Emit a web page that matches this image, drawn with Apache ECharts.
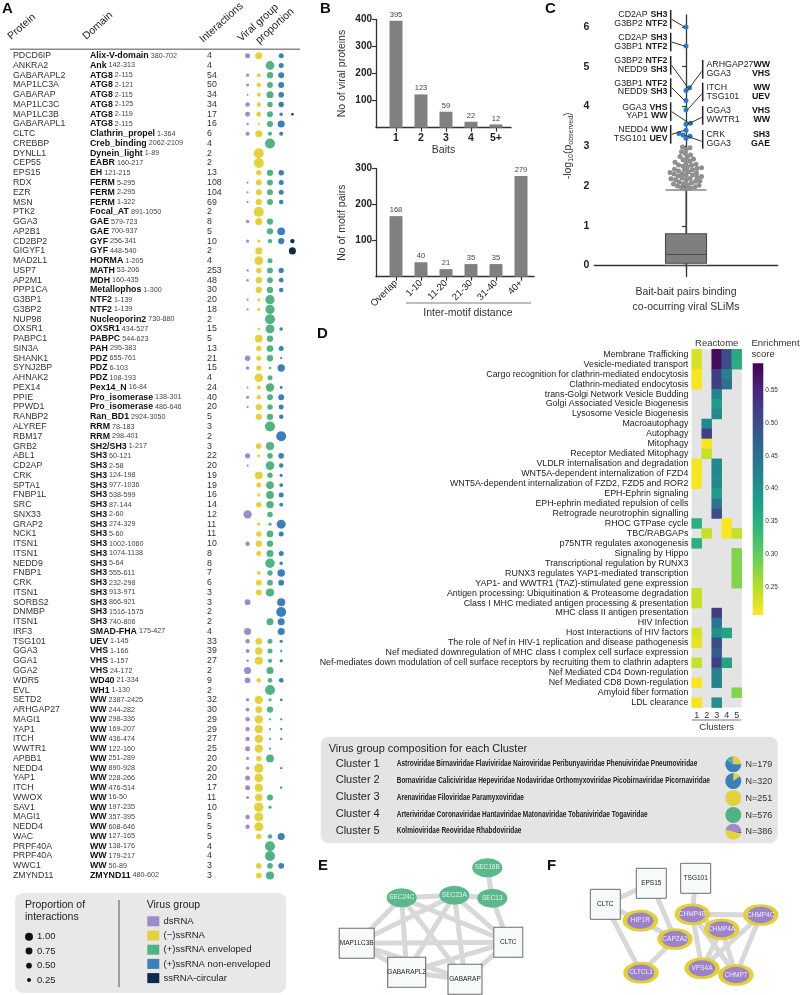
<!DOCTYPE html>
<html><head><meta charset="utf-8"><title>chart</title>
<script src="https://cdn.jsdelivr.net/npm/echarts@6.0.0/dist/echarts.min.js"></script>
<style>html,body{margin:0;padding:0;background:#fff;}#chart{width:800px;height:995px;}</style>
</head><body><div id="chart"></div>
<script>
const FF = '"Liberation Sans", Arial, Helvetica, sans-serif';

/* ---------- Panel A data ---------- */
const proteins = ['PDCD6IP','ANKRA2','GABARAPL2','MAP1LC3A','GABARAP','MAP1LC3C','MAP1LC3B','GABARAPL1','CLTC','CREBBP',
 'DYNLL1','CEP55','EPS15','RDX','EZR','MSN','PTK2','GGA3','AP2B1','CD2BP2',
 'GIGYF1','MAD2L1','USP7','AP2M1','PPP1CA','G3BP1','G3BP2','NUP98','OXSR1','PABPC1',
 'SIN3A','SHANK1','SYNJ2BP','AHNAK2','PEX14','PPIE','PPWD1','RANBP2','ALYREF','RBM17',
 'GRB2','ABL1','CD2AP','CRK','SPTA1','FNBP1L','SRC','SNX33','GRAP2','NCK1',
 'ITSN1','ITSN1','NEDD9','FNBP1','CRK','ITSN1','SORBS2','DNMBP','ITSN1','IRF3',
 'TSG101','GGA3','GGA1','GGA2','WDR5','EVL','SETD2','ARHGAP27','MAGI1','YAP1',
 'ITCH','WWTR1','APBB1','NEDD4','YAP1','ITCH','WWOX','SAV1','MAGI1','NEDD4',
 'WAC','PRPF40A','PRPF40A','WWC1','ZMYND11'];
const domains = ['Alix-V-domain','Ank','ATG8','ATG8','ATG8','ATG8','ATG8','ATG8','Clathrin_propel','Creb_binding',
 'Dynein_light','EABR','EH','FERM','FERM','FERM','Focal_AT','GAE','GAE','GYF',
 'GYF','HORMA','MATH','MDH','Metallophos','NTF2','NTF2','Nucleoporin2','OXSR1','PABPC',
 'PAH','PDZ','PDZ','PDZ','Pex14_N','Pro_isomerase','Pro_isomerase','Ran_BD1','RRM','RRM',
 'SH2/SH3','SH3','SH3','SH3','SH3','SH3','SH3','SH3','SH3','SH3',
 'SH3','SH3','SH3','SH3','SH3','SH3','SH3','SH3','SH3','SMAD-FHA',
 'UEV','VHS','VHS','VHS','WD40','WH1','WW','WW','WW','WW',
 'WW','WW','WW','WW','WW','WW','WW','WW','WW','WW',
 'WW','WW','WW','WW','ZMYND11'];
const domainRanges = ['380-702','142-313','2-115','2-121','2-115','2-125','2-119','2-115','1-364','2062-2109',
 '1-89','160-217','121-215','5-295','2-295','1-322','891-1050','579-723','700-937','256-341',
 '448-540','1-205','53-206','160-435','1-300','1-139','1-139','730-880','434-527','544-623',
 '295-383','655-761','6-103','108-193','16-84','138-301','486-646','2924-3050','78-183','298-401',
 '1-217','60-121','2-58','124-198','977-1036','538-599','87-144','2-60','274-329','5-60',
 '1002-1060','1074-1138','5-64','555-611','232-298','913-971','866-921','1516-1575','740-806','175-427',
 '1-145','1-166','1-157','24-172','21-334','1-130','2387-2425','244-282','298-336','169-207',
 '436-474','122-160','251-289','890-928','228-266','476-514','16-50','197-235','357-395','608-646',
 '127-165','138-176','179-217','50-89','480-602'];
const interactions = [4,4,54,50,34,34,17,16,6,4,
 2,2,13,108,104,69,2,8,5,10,
 2,4,253,48,30,20,18,2,15,5,
 13,21,15,4,24,40,20,5,3,2,
 3,22,20,19,19,16,14,12,11,11,
 10,8,8,7,6,3,3,2,2,4,
 33,39,27,2,9,2,32,30,29,29,
 27,25,20,20,20,17,11,10,5,5,
 5,4,4,3,3];
const groupNames = ['dsRNA','(−)ssRNA','(+)ssRNA enveloped','(+)ssRNA non-enveloped','ssRNA-circular'];
const propDsRNA = [.25,0,.1,.1,.03,.2,.24,.06,.17,0,
 0,0,0,.05,.05,.05,0,.12,0,.1,
 0,0,.06,.06,0,.05,.05,0,0,0,
 0,.3,.13,0,.04,.1,.05,0,0,0,
 0,.27,.05,0,0,0,0,.7,0,0,
 .2,0,0,0,0,0,.33,0,0,.5,
 .2,.15,.07,.5,.33,0,.12,.15,.2,.2,
 .2,.25,.1,.1,.25,.25,.09,0,.2,.2,
 0,0,0,0,0];
const propNegSsRNA = [.5,0,.15,.2,.15,.2,.24,.06,.5,0,
 1,1,.3,.35,.35,.4,1,.5,0,.1,
 .5,.75,.3,.4,.4,.1,.1,0,.07,.6,
 .3,.25,.27,.75,.17,.2,.4,.4,0,0,
 .33,.1,0,.6,.25,.12,.3,0,.1,.3,
 .4,.25,0,.14,.33,.33,0,0,0,0,
 .45,.55,.65,0,.22,0,.7,.45,.7,.7,
 .7,.7,.3,.85,.75,.7,.55,.9,.8,.8,
 .3,0,0,.33,.33];
const propPosEnveloped = [0,.75,.4,.35,.5,.3,.35,.38,.17,1,
 0,0,.4,.35,.35,.35,0,.38,.4,.2,
 0,.25,.35,.32,.4,.85,.85,1,.8,.4,
 .45,.4,.07,.25,.7,.35,.3,.4,1,0,
 .67,.32,.75,.3,.6,.6,.55,.3,.1,.45,
 .4,.5,.88,.29,.33,.67,0,0,.5,0,
 .25,.25,.18,.5,.22,1,.1,.4,.05,.05,
 .05,.05,.6,0,0,0,.36,.1,0,0,
 .2,1,1,.33,.67];
const propPosNonEnveloped = [.25,.25,.35,.35,.32,.3,.12,.5,.17,0,
 0,0,.3,.25,.25,.2,0,0,.6,.4,
 0,0,.27,.22,.2,0,0,0,.13,0,
 .25,.05,.53,0,.08,.35,.25,.2,0,1,
 0,.32,.2,.1,.15,.25,.15,0,.8,.25,
 0,.25,.12,.57,.33,0,.67,1,.5,.5,
 .1,.05,.1,0,.22,0,.08,0,.05,.05,
 .05,0,0,.05,0,.05,0,0,0,0,
 .5,0,0,.33,0];
const propCircular = [0,0,0,0,0,0,.06,0,0,0,
 0,0,0,0,0,0,0,0,0,.2,
 .5,0,0,0,0,0,0,0,0,0,
 0,0,0,0,0,0,0,0,0,0,
 0,0,0,0,0,0,0,0,0,0,
 0,0,0,0,0,0,0,0,0,0,
 0,0,0,0,0,0,0,0,0,0,
 0,0,0,0,0,0,0,0,0,0,
 0,0,0,0,0];
const legendProportions = [1.00, 0.75, 0.50, 0.25];

/* ---------- Panel B data ---------- */
const baitCategories = ['1','2','3','4','5+'];
const viralProteinCounts = [395,123,59,22,12];
const distanceCategories = ['Overlap','1-10','11-20','21-30','31-40','40+'];
const motifPairCounts = [168,40,21,35,35,279];

/* ---------- Panel C data ---------- */
const boxStats = [0, 0.06, 0.28, 0.80, 1.90];
const outlierGray = [2.98,2.96,2.92,2.86,2.81,2.78,2.74,2.71,2.68,2.66,2.62,2.60,2.58,2.55,2.53,2.52,2.50,2.48,2.46,2.44,
 2.42,2.41,2.40,2.38,2.36,2.34,2.33,2.31,2.30,2.28,2.27,2.25,2.24,2.22,2.20,2.19,2.18,2.16,2.15,2.13,
 2.12,2.10,2.08,2.06,2.05,2.03,2.02,2.00,1.98,1.96,1.95,1.93];
const outlierBlue = [6.00,5.52,4.47,4.40,4.15,3.92,3.58,3.55,3.40,3.32,3.28,3.25,3.20];
const pairAnnotations = [
 {side:'L', a:['CD2AP','SH3'], b:['G3BP2','NTF2'], target:0},
 {side:'L', a:['CD2AP','SH3'], b:['G3BP1','NTF2'], target:1},
 {side:'L', a:['G3BP2','NTF2'], b:['NEDD9','SH3'], target:2},
 {side:'L', a:['G3BP1','NTF2'], b:['NEDD9','SH3'], target:4},
 {side:'L', a:['GGA3','VHS'], b:['YAP1','WW'], target:6},
 {side:'L', a:['NEDD4','WW'], b:['TSG101','UEV'], target:8},
 {side:'R', a:['ARHGAP27','WW'], b:['GGA3','VHS'], target:3},
 {side:'R', a:['ITCH','WW'], b:['TSG101','UEV'], target:5},
 {side:'R', a:['GGA3','VHS'], b:['WWTR1','WW'], target:7},
 {side:'R', a:['CRK','SH3'], b:['GGA3','GAE'], target:10}
];

/* ---------- Panel D data ---------- */
const pathways = ['Membrane Trafficking','Vesicle-mediated transport','Cargo recognition for clathrin-mediated endocytosis','Clathrin-mediated endocytosis',
 'trans-Golgi Network Vesicle Budding','Golgi Associated Vesicle Biogenesis','Lysosome Vesicle Biogenesis','Macroautophagy','Autophagy','Mitophagy',
 'Receptor Mediated Mitophagy','VLDLR internalisation and degradation','WNT5A-dependent internalization of FZD4','WNT5A-dependent internalization of FZD2, FZD5 and ROR2',
 'EPH-Ephrin signaling','EPH-ephrin mediated repulsion of cells','Retrograde neurotrophin signalling','RHOC GTPase cycle','TBC/RABGAPs','p75NTR regulates axonogenesis',
 'Signaling by Hippo','Transcriptional regulation by RUNX3','RUNX3 regulates YAP1-mediated transcription','YAP1- and WWTR1 (TAZ)-stimulated gene expression',
 'Antigen processing: Ubiquitination & Proteasome degradation','Class I MHC mediated antigen processing & presentation','MHC class II antigen presentation','HIV Infection',
 'Host Interactions of HIV factors','The role of Nef in HIV-1 replication and disease pathogenesis','Nef mediated downregulation of MHC class I complex cell surface expression',
 'Nef-mediates down modulation of cell surface receptors by recruiting them to clathrin adapters','Nef Mediated CD4 Down-regulation','Nef Mediated CD8 Down-regulation',
 'Amyloid fiber formation','LDL clearance'];
const clusterLabels = ['1','2','3','4','5'];
const scoreCluster1 = [.23,.23,.21,.21,null,null,null,null,null,null,null,.215,.21,.21,null,null,null,.35,null,.35,null,null,null,null,.24,.24,null,null,.23,.22,null,.24,null,.21,null,.21];
const scoreCluster2 = [null,null,null,null,null,null,null,.41,.52,.21,.24,null,null,null,null,null,null,null,.24,null,null,null,null,null,null,null,null,null,null,null,null,null,null,null,null,null];
const scoreCluster3 = [.58,.58,.52,.52,.42,.38,.41,null,null,null,null,.41,.41,.41,.38,.44,.50,null,null,null,null,null,null,null,null,null,.52,.44,.40,.50,.48,.52,.42,.42,null,.40];
const scoreCluster4 = [.50,.50,.42,.45,null,null,null,null,null,null,null,null,null,null,null,null,null,.21,.21,null,null,null,null,null,null,null,null,null,.37,null,null,.37,null,null,null,null];
const scoreCluster5 = [.36,.35,null,null,null,null,null,null,null,null,null,null,null,null,null,null,null,null,.24,null,.28,.28,.28,.28,null,null,null,null,null,null,null,null,null,null,.28,null];
const scoreRange = [0.207, 0.591];
const colorbarTicks = [0.25,0.30,0.35,0.40,0.45,0.50,0.55];
const clusterNames = ['Cluster 1','Cluster 2','Cluster 3','Cluster 4','Cluster 5'];
const clusterFamilies = [
 'Astroviridae Birnaviridae Flaviviridae Nairoviridae Peribunyaviridae Phenuiviridae Pneumoviridae',
 'Bornaviridae Caliciviridae Hepeviridae Nodaviridae Orthomyxoviridae Picobirnaviridae Picornaviridae',
 'Arenaviridae Filoviridae Paramyxoviridae',
 'Arteriviridae Coronaviridae Hantaviridae Matonaviridae Tobaniviridae Togaviridae',
 'Kolmioviridae Reoviridae Rhabdoviridae'];
const clusterN = [179,320,251,576,386];
const compNegSsRNA = [.25,.15,1,0,.515];
const compPosNonEnv = [.60,.85,0,0,0];
const compPosEnv = [.12,0,0,1,0];
const compDsRNA = [.03,0,0,0,.47];
const compCircular = [0,0,0,0,.015];

/* ---------- Panels E, F networks ---------- */
const netENodes = ['SEC16B','SEC24C','SEC23A','SEC13','MAP1LC3B','CLTC','GABARAPL2','GABARAP'];
const netEViral = [true,true,true,true,false,false,false,false];
const netEEdges = [['SEC16B','SEC13'],['SEC24C','SEC23A'],['SEC23A','SEC13'],['SEC13','CLTC'],['SEC24C','MAP1LC3B'],['SEC24C','GABARAPL2'],
 ['SEC24C','GABARAP'],['SEC24C','CLTC'],['SEC23A','MAP1LC3B'],['SEC23A','GABARAPL2'],['SEC23A','GABARAP'],['SEC23A','CLTC'],
 ['MAP1LC3B','CLTC'],['MAP1LC3B','GABARAPL2'],['MAP1LC3B','GABARAP'],['GABARAPL2','CLTC'],['GABARAPL2','GABARAP'],['GABARAP','CLTC']];
const netFNodes = ['CLTC','EPS15','TSG101','HIP1R','CHMP4B','CHMP4C','CHMP4A','CAPZA2','CLTCL1','VPS4A','CHMP7'];
const netFViral = [false,false,false,true,true,true,true,true,true,true,true];
const netFEdges = [['CLTC','EPS15'],['CLTC','HIP1R'],['CLTC','CLTCL1'],['EPS15','CAPZA2'],['TSG101','CHMP4B'],['CHMP4B','CHMP4C'],
 ['CHMP4B','CHMP4A'],['CHMP4B','VPS4A'],['CHMP4B','CHMP7'],['CHMP4A','VPS4A'],['CHMP4A','CHMP7'],['CHMP4C','VPS4A'],
 ['CHMP4C','CHMP7'],['VPS4A','CHMP7'],['CAPZA2','CLTCL1'],['HIP1R','CAPZA2']];

/* ---------- layout / style (not data) ---------- */
const groupColors = ['#a08ac8','#e4d13f','#52b283','#3d80b9','#0f2b4a'];
const viridis = ['#440154','#482878','#3e4989','#31688e','#26828e','#1f9e89','#35b779','#6ece58','#b5de2b','#fde725'];
const netELayout = [[487.3,867.7],[401.7,897.7],[454.3,895.3],[492.3,898.3],[356.7,943.3],[508.3,942.3],[406.7,972.3],[465,979.3]];
const netEHostSize = {MAP1LC3B:[35,30], CLTC:[29,30], GABARAPL2:[38,30], GABARAP:[34,30]};
const netFLayout = [[605.3,904.3],[651.3,883.3],[695.7,878.3],[640.3,920.7],[692.3,914.3],[760.7,915],[721.7,929.3],[675,939],[641,972.7],[702,968.3],[736,975]];
const ELLIPSE = 'path://M0,50 A50,50 0 1,1 100,50 A50,50 0 1,1 0,50 Z';

const chart = echarts.init(document.getElementById('chart'), null, {renderer:'canvas', width:800, height:995});

const rowIds = proteins.map((_, i) => 'r' + i);
const dotSize = p => Math.max(2, 10 * Math.sqrt(p));
const propsByGroup = [propDsRNA, propNegSsRNA, propPosEnveloped, propPosNonEnveloped, propCircular];

function textAxis(margin, formatter, extra) {
  return {type:'category', gridIndex:0, data:rowIds, inverse:true, position:'left',
    axisLine:{show:false}, axisTick:{show:false}, splitLine:{show:false},
    axisLabel:Object.assign({interval:0, align:'left', margin, formatter, fontFamily:FF, fontSize:8.8, color:'#333'}, extra||{})};
}
const boldLab = {fontFamily:FF, fontWeight:'bold', fontSize:10, color:'#222'};
const axLine = {show:true, lineStyle:{color:'#333', width:1.3}};
const axTick = (vals) => ({show:true, customValues:vals, length:4, lineStyle:{color:'#333', width:1.2}});

/* beeswarm layout for panel C points (deterministic) */
const pxPerY = 261.7 / 6.58, pxPerX = 183.4 / 2;
function beeswarm(vals, d) {
  const order = vals.map((v, i) => i).sort((a, b) => vals[a] - vals[b]);
  const placed = []; const xs = new Array(vals.length).fill(0);
  for (const i of order) {
    const y = vals[i] * pxPerY;
    for (let k = 0; k < 400; k++) {
      const off = (k % 2 ? 1 : -1) * Math.ceil(k / 2) * 0.5;
      if (placed.every(p => (p[0] - off) ** 2 + (p[1] - y) ** 2 >= d * d)) { placed.push([off, y]); xs[i] = off / pxPerX; break; }
    }
  }
  return xs;
}
const allOut = outlierGray.concat(outlierBlue);
const swarmX = beeswarm(allOut, 4.2);
const grayX = swarmX.slice(0, outlierGray.length);
const blueX = swarmX.slice(outlierGray.length);

const series = [];
propsByGroup.forEach((arr, g) => {
  series.push({type:'scatter', xAxisIndex:0, yAxisIndex:0, silent:true, symbol:'circle',
    symbolSize: d => dotSize(d[2]), itemStyle:{color:groupColors[g], opacity:1},
    data: arr.map((p, i) => p > 0 ? [g, i, p] : null).filter(Boolean)});
});
const barLabel = {show:true, position:'top', distance:2, fontSize:7.5, color:'#444', fontFamily:FF};
series.push({type:'bar', xAxisIndex:1, yAxisIndex:4, barWidth:13, silent:true, itemStyle:{color:'#808080'}, label:barLabel,
  data: viralProteinCounts.map((v, i) => [i + 1, v])});
series.push({type:'bar', xAxisIndex:2, yAxisIndex:5, barWidth:13, silent:true, itemStyle:{color:'#808080'}, label:barLabel,
  data: motifPairCounts.map((v, i) => [i + 1, v])});
series.push({type:'boxplot', xAxisIndex:3, yAxisIndex:6, silent:true, boxWidth:[41,41],
  itemStyle:{color:'#7f7f7f', borderColor:'#4a4a4a', borderWidth:1.1}, data:[boxStats]});
series.push({type:'scatter', xAxisIndex:4, yAxisIndex:6, silent:true, symbolSize:5, itemStyle:{color:'#8e8e8e', opacity:1},
  data: outlierGray.map((v, i) => [grayX[i], v])});
const blueSeriesIndex = series.length;
series.push({type:'scatter', xAxisIndex:4, yAxisIndex:6, silent:true, symbolSize:5, itemStyle:{color:'#2a7cc8', opacity:1},
  data: outlierBlue.map((v, i) => [blueX[i], v])});
const heatData = [];
[scoreCluster1, scoreCluster2, scoreCluster3, scoreCluster4, scoreCluster5].forEach((arr, c) =>
  arr.forEach((v, r) => { if (v != null) heatData.push([c, r, v]); }));
const heatSeriesIndex = series.length;
series.push({type:'heatmap', xAxisIndex:5, yAxisIndex:7, silent:true, data:heatData, itemStyle:{borderWidth:0}});

/* pies */
const pieStart = [90, 90, 90, 90, -10];
const pieY = [764.3, 781, 798, 815, 831.7];
for (let c = 0; c < 5; c++) {
  const parts = [[compNegSsRNA[c],1],[compPosNonEnv[c],3],[compPosEnv[c],2],[compDsRNA[c],0],[compCircular[c],4]];
  series.push({type:'pie', silent:true, z:80, center:[733.3, pieY[c]], radius:[0, 8], startAngle:pieStart[c], clockwise:true,
    label:{show:false}, labelLine:{show:false}, itemStyle:{borderWidth:0}, padAngle:0, avoidLabelOverlap:false,
    data: parts.filter(p => p[0] > 0).map(p => ({value:p[0], name:groupNames[p[1]], itemStyle:{color:groupColors[p[1]]}}))});
}

function netSeries(nodes, viral, layout, edges, fViral) {
  const xs = layout.map(p => p[0]), ys = layout.map(p => p[1]);
  const minX = Math.min(...xs), maxX = Math.max(...xs), minY = Math.min(...ys), maxY = Math.max(...ys);
  return {type:'graph', layout:'none', roam:false, silent:true, left:minX, top:minY, width:maxX - minX, height:maxY - minY,
    lineStyle:{color:'#d8d8d8', width:5, opacity:1, curveness:0},
    data: nodes.map((n, i) => Object.assign({name:n, x:layout[i][0], y:layout[i][1]}, fViral(n, viral[i]))),
    links: edges.map(e => ({source:e[0], target:e[1]}))};
}
series.push(netSeries(netENodes, netEViral, netELayout, netEEdges, (n, v) => v ?
  {symbol:ELLIPSE, symbolSize:[30,19], itemStyle:{color:'#5bb88b', borderWidth:0}, label:{show:true, position:'inside', fontSize:6.5, color:'#e3f4eb', fontFamily:FF}} :
  {symbol:'rect', symbolSize:netEHostSize[n], itemStyle:{color:'#f6fafb', borderColor:'#6d6d6d', borderWidth:1}, label:{show:true, position:'inside', fontSize:6.5, color:'#222', fontFamily:FF}}));
series.push(netSeries(netFNodes, netFViral, netFLayout, netFEdges, (n, v) => v ?
  {symbol:ELLIPSE, symbolSize:[31,19], itemStyle:{color:'#9c83c8', borderColor:'#e2cf3a', borderWidth:3.5}, label:{show:true, position:'inside', fontSize:6.5, color:'#efe9f8', fontFamily:FF}} :
  {symbol:'rect', symbolSize:[30,30], itemStyle:{color:'#f6fafb', borderColor:'#6d6d6d', borderWidth:1}, label:{show:true, position:'inside', fontSize:6.5, color:'#222', fontFamily:FF}}));

const option = {
  animation:false,
  textStyle:{fontFamily:FF},
  grid:[
    {left:242, top:50.8, width:56, height:829.6, outerBoundsMode:'none'},
    {left:376, top:19.5, width:135, height:108.2, outerBoundsMode:'none'},
    {left:376, top:168.5, width:158, height:108.2, outerBoundsMode:'none'},
    {left:594.3, top:15, width:183.4, height:261.7, outerBoundsMode:'none'},
    {left:691.7, top:349.3, width:50, height:358.3, show:true, backgroundColor:'#e4e4e4', borderWidth:0, outerBoundsMode:'none'},
    {left:752.7, top:363.3, width:10.6, height:251.7, outerBoundsMode:'none'}
  ],
  xAxis:[
    {type:'category', gridIndex:0, data:groupNames, show:false},
    {type:'value', gridIndex:1, min:0.2, max:5.6, splitLine:{show:false}, axisLine:axLine, axisTick:axTick([1,2,3,4,5]),
      axisLabel:Object.assign({customValues:[1,2,3,4,5], formatter:v => baitCategories[Math.round(v) - 1], margin:5}, boldLab, {fontSize:10.5}),
      name:'Baits', nameLocation:'middle', nameGap:17, nameMoveOverlap:false, nameTextStyle:{fontSize:10.5, color:'#333', fontFamily:FF}},
    {type:'value', gridIndex:2, min:0.2, max:6.52, splitLine:{show:false}, axisLine:axLine, axisTick:axTick([1,2,3,4,5,6]),
      axisLabel:{customValues:[1,2,3,4,5,6], formatter:v => distanceCategories[Math.round(v) - 1], rotate:45, margin:5, fontSize:9.5, color:'#222', fontFamily:FF}},
    {type:'category', gridIndex:3, data:['pairs'], axisLine:axLine, axisTick:{show:true, alignWithLabel:true, length:4, lineStyle:{color:'#333', width:1.2}},
      axisLabel:{show:false}, name:'Bait-bait pairs binding\nco-ocurring viral SLiMs', nameLocation:'middle', nameGap:8, nameMoveOverlap:false,
      nameTextStyle:{fontSize:10.5, color:'#333', fontFamily:FF, lineHeight:15, verticalAlign:'top'}},
    {type:'value', gridIndex:3, min:-1, max:1, show:false},
    {type:'category', gridIndex:4, data:clusterLabels, axisLine:{show:false}, axisTick:{show:false},
      axisLabel:{margin:3, fontSize:9, color:'#333', fontFamily:FF}},
    {type:'value', gridIndex:5, min:0, max:1, show:false}
  ],
  yAxis:[
    {type:'category', gridIndex:0, data:rowIds, inverse:true, show:false},
    textAxis(229, v => proteins[+v.slice(1)]),
    textAxis(152, v => { const i = +v.slice(1); return '{b|' + domains[i] + '}{r| ' + domainRanges[i] + '}'; },
      {rich:{b:{fontWeight:'bold', fontSize:8.8, color:'#111', fontFamily:FF}, r:{fontSize:7.2, color:'#444', fontFamily:FF}}}),
    textAxis(35, v => String(interactions[+v.slice(1)])),
    {type:'value', gridIndex:1, min:0, max:400, splitLine:{show:false}, axisLine:axLine, axisTick:axTick([100,200,300,400]),
      axisLabel:Object.assign({customValues:[100,200,300,400], margin:4}, boldLab),
      name:'No of viral proteins', nameLocation:'middle', nameGap:28, nameMoveOverlap:false, nameTextStyle:{fontSize:10.5, color:'#333', fontFamily:FF}},
    {type:'value', gridIndex:2, min:0, max:300, splitLine:{show:false}, axisLine:axLine, axisTick:axTick([100,200,300]),
      axisLabel:Object.assign({customValues:[100,200,300], margin:4}, boldLab),
      name:'No of motif pairs', nameLocation:'middle', nameGap:28, nameMoveOverlap:false, nameTextStyle:{fontSize:10.5, color:'#333', fontFamily:FF}},
    {type:'value', gridIndex:3, min:-0.28, max:6.3, splitLine:{show:false}, axisLine:axLine, axisTick:axTick([0,1,2,3,4,5,6]),
      axisLabel:Object.assign({customValues:[0,1,2,3,4,5,6], margin:5}, boldLab, {fontSize:10.5}),
      name:'-log{s|10}(p{s|observed})', nameLocation:'middle', nameGap:20, nameMoveOverlap:false,
      nameTextStyle:{fontSize:10.5, color:'#333', fontFamily:FF, rich:{s:{fontSize:7, color:'#333', fontFamily:FF, padding:[6,0,0,0]}}}},
    {type:'category', gridIndex:4, data:pathways, inverse:true, axisLine:{show:false}, axisTick:{show:false},
      axisLabel:{interval:0, margin:3.4, fontSize:8.85, color:'#222', fontFamily:FF}},
    {type:'value', gridIndex:5, min:scoreRange[0], max:scoreRange[1], position:'right', splitLine:{show:false}, axisLine:{show:false},
      axisTick:{show:true, customValues:colorbarTicks, length:2, inside:true, lineStyle:{color:'#ffffff', width:0.8}},
      axisLabel:{customValues:colorbarTicks, formatter:v => v.toFixed(2), margin:2, fontSize:6.5, color:'#333', fontFamily:FF}}
  ],
  visualMap:[{type:'continuous', show:false, seriesIndex:heatSeriesIndex, min:scoreRange[0], max:scoreRange[1],
    inRange:{color:viridis.slice().reverse()}}],
  series
};
chart.setOption(option);

/* ---------- annotations & static text ---------- */
const g = [];
function txt(x, y, text, o) {
  o = o || {};
  return {type:'text', x, y, rotation:o.rot || 0, scaleX:o.sx || 1, z:50, silent:true,
    style:{text, fill:o.color || '#222', fontSize:o.size || 10, fontWeight:o.weight || 'normal', fontFamily:FF,
      align:o.align || 'left', textAlign:o.align || 'left', verticalAlign:o.va || 'middle', textVerticalAlign:o.va || 'middle', rich:o.rich}};
}
function ln(x1, y1, x2, y2, color, w) {
  return {type:'line', z:40, silent:true, shape:{x1, y1, x2, y2}, style:{stroke:color, lineWidth:w}};
}
[['A',2,9],['B',320,9],['C',545,9],['D',317,334],['E',318,866],['F',547,866]].forEach(p => g.push(txt(p[1], p[2], p[0], {size:15, weight:'bold', color:'#111'})));
const rot = 42 * Math.PI / 180;
g.push(txt(13, 42, 'Protein', {rot, va:'bottom', size:10.5}));
g.push(txt(88, 42, 'Domain', {rot, va:'bottom', size:10.5}));
g.push(txt(205, 45, 'Interactions', {rot, va:'bottom', size:10.5}));
g.push(txt(243, 44, 'Viral group', {rot, va:'bottom', size:10.5}));
g.push(txt(261, 46, 'proportion', {rot, va:'bottom', size:10.5}));
g.push(ln(10, 49.3, 300, 49.3, '#8a8a8a', 1.6));
g.push({type:'rect', z:30, silent:true, shape:{x:15, y:893, width:271, height:100, r:8}, style:{fill:'#e8e8e8'}});
g.push(txt(25, 905, 'Proportion of', {size:10.5}));
g.push(txt(25, 917.5, 'interactions', {size:10.5}));
const legDotY = [936.7, 951, 965.7, 980];
legendProportions.forEach((p, i) => {
  g.push({type:'circle', z:45, silent:true, shape:{cx:29, cy:legDotY[i], r:Math.max(1.8, 4 * Math.sqrt(p))}, style:{fill:'#111'}});
  g.push(txt(37, legDotY[i], p.toFixed(2), {size:9.5}));
});
g.push(ln(119, 900, 119, 987, '#555', 1));
g.push(txt(146.7, 905, 'Virus group', {size:10.5}));
groupNames.forEach((n, i) => {
  const yc = 921.3 + i * 14.2;
  g.push({type:'rect', z:45, silent:true, shape:{x:147.3, y:yc - 5, width:12, height:10}, style:{fill:groupColors[i]}});
  g.push(txt(163.5, yc, n, {size:9.5}));
});
g.push(ln(406, 303, 531, 303, '#a8a8a8', 1.5));
g.push(txt(468, 313, 'Inter-motif distance', {align:'center', size:10.5, color:'#333'}));
const annYL = [15, 37.7, 61, 83.3, 107.3, 130];
const annYR = [65, 87.7, 111, 135];
let li = 0, ri = 0;
const annRich = {n:{fontSize:8.8, color:'#222', fontFamily:FF}, b:{fontSize:8.8, fontWeight:'bold', color:'#111', fontFamily:FF}};
pairAnnotations.forEach(a => {
  const pt = chart.convertToPixel({seriesIndex:blueSeriesIndex}, [blueX[a.target], outlierBlue[a.target]]);
  if (a.side === 'L') {
    const y1 = annYL[li++], y2 = y1 + 8.7, bx = 670.7;
    g.push(txt(667.5, y1, '{n|' + a.a[0] + '} {b|' + a.a[1] + '}', {align:'right', rich:annRich}));
    g.push(txt(667.5, y2, '{n|' + a.b[0] + '} {b|' + a.b[1] + '}', {align:'right', rich:annRich}));
    g.push(ln(bx, y1 - 5, bx, y2 + 5, '#222', 1.5));
    g.push(ln(bx + 1, (y1 + y2) / 2, pt[0] - 1.5, pt[1], '#333', 1));
  } else {
    const y1 = annYR[ri++], y2 = y1 + 8.7, bx = 702.7;
    g.push(txt(706.5, y1, a.a[0], {size:8.8}));
    g.push(txt(706.5, y2, a.b[0], {size:8.8}));
    g.push(txt(770, y1, a.a[1], {size:8.8, weight:'bold', align:'right', color:'#111'}));
    g.push(txt(770, y2, a.b[1], {size:8.8, weight:'bold', align:'right', color:'#111'}));
    g.push(ln(bx, y1 - 5, bx, y2 + 5, '#222', 1.5));
    g.push(ln(bx - 1, (y1 + y2) / 2 + 2, pt[0] + 1.5, pt[1], '#333', 1));
  }
});
g.push(txt(716.7, 343, 'Reactome', {align:'center', size:9.5, color:'#333'}));
g.push(txt(751.5, 343, 'Enrichment', {size:9.5, color:'#333'}));
g.push(txt(751.5, 354.5, 'score', {size:9.5, color:'#333'}));
g.push({type:'rect', z:30, silent:true, shape:{x:752.7, y:363.3, width:10.6, height:251.7},
  style:{fill:{type:'linear', x:0, y:0, x2:0, y2:1, colorStops:viridis.map((c, i) => ({offset:i / (viridis.length - 1), color:c}))}}});
g.push(ln(692, 720, 741, 720, '#555', 0.8));
g.push(txt(716.7, 727.5, 'Clusters', {align:'center', size:9.5, color:'#333'}));
g.push({type:'rect', z:1, silent:true, shape:{x:320.7, y:736.7, width:457, height:106.6, r:8}, style:{fill:'#e4e4e4'}});
g.push(txt(328.7, 749.3, 'Virus group composition for each Cluster', {size:11, color:'#222'}));
const cv = document.createElement('canvas').getContext('2d');
cv.font = 'bold 8.6px ' + FF;
const famScale = 300.6 / cv.measureText(clusterFamilies[0]).width;
clusterNames.forEach((n, i) => {
  const y = pieY[i] - 0.8;
  g.push(txt(335.7, y, n, {size:11, color:'#222'}));
  g.push(txt(396.7, y, clusterFamilies[i], {size:8.6, weight:'bold', color:'#222', sx:famScale}));
  g.push(txt(745.5, pieY[i] + 0.3, 'N=' + clusterN[i], {size:9, color:'#333'}));
});
chart.setOption({graphic:{elements:g}});
</script></body></html>
